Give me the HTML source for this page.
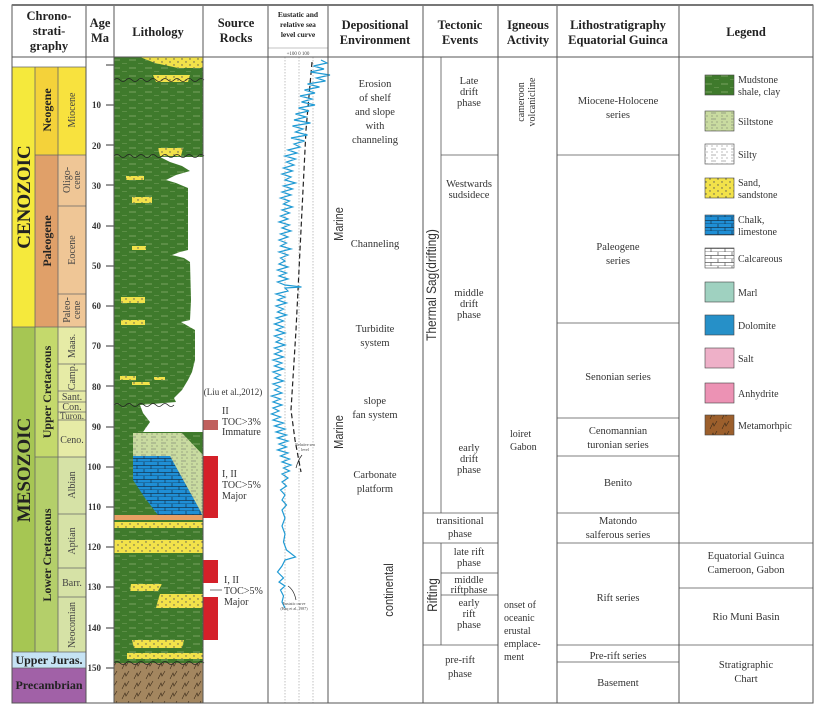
<!DOCTYPE html>
<html><head><meta charset="utf-8"><style>
html,body{margin:0;padding:0;background:#fff;}
svg{display:block;font-family:"Liberation Serif",serif;}
.h{font-weight:bold;font-size:12.5px;fill:#222;text-anchor:middle;}
.t{font-size:10.5px;fill:#333;text-anchor:middle;}
.b{font-weight:bold;fill:#222;}
</style></head><body>
<svg width="817" height="715" viewBox="0 0 817 715" xmlns="http://www.w3.org/2000/svg">
<defs>
<pattern id="mud" width="16" height="8" patternUnits="userSpaceOnUse">
<rect width="16" height="8" fill="#3f7a2c"/><line x1="1" y1="4" x2="8" y2="4" stroke="#86ad6c" stroke-width="0.8"/><line x1="10" y1="8" x2="15" y2="8" stroke="#86ad6c" stroke-width="0.8"/></pattern>
<pattern id="sand" width="8" height="6" patternUnits="userSpaceOnUse"><rect width="8" height="6" fill="#f2e24a"/><circle cx="2" cy="2" r="0.7" fill="#555"/><circle cx="6" cy="5" r="0.7" fill="#555"/></pattern>
<pattern id="silt" width="10" height="6" patternUnits="userSpaceOnUse"><rect width="10" height="6" fill="#c9dba0"/><circle cx="2" cy="2" r="0.5" fill="#555"/><circle cx="7" cy="2" r="0.5" fill="#555"/><line x1="1" y1="5" x2="6" y2="5" stroke="#666" stroke-width="0.5"/></pattern>
<pattern id="silty" width="10" height="6" patternUnits="userSpaceOnUse"><rect width="10" height="6" fill="#fff"/><circle cx="2" cy="2" r="0.5" fill="#555"/><circle cx="7" cy="2" r="0.5" fill="#555"/><line x1="1" y1="5" x2="6" y2="5" stroke="#666" stroke-width="0.5"/></pattern>
<pattern id="lime" width="14" height="7" patternUnits="userSpaceOnUse"><rect width="14" height="7" fill="#1f8fd6"/><line x1="0" y1="7" x2="14" y2="7" stroke="#123" stroke-width="0.6"/><line x1="4" y1="0" x2="4" y2="3.5" stroke="#123" stroke-width="0.6"/><line x1="0" y1="3.5" x2="14" y2="3.5" stroke="#123" stroke-width="0.6"/><line x1="11" y1="3.5" x2="11" y2="7" stroke="#123" stroke-width="0.6"/></pattern>
<pattern id="calc" width="14" height="7" patternUnits="userSpaceOnUse"><rect width="14" height="7" fill="#fff"/><line x1="0" y1="7" x2="14" y2="7" stroke="#333" stroke-width="0.6"/><line x1="4" y1="0" x2="4" y2="3.5" stroke="#333" stroke-width="0.6"/><line x1="0" y1="3.5" x2="14" y2="3.5" stroke="#333" stroke-width="0.6"/><line x1="11" y1="3.5" x2="11" y2="7" stroke="#333" stroke-width="0.6"/></pattern>
<pattern id="meta" width="12" height="10" patternUnits="userSpaceOnUse"><rect width="12" height="10" fill="#a3865f"/><path d="M2,9 L5,3 L6,6 L9,1" stroke="#3a2a18" stroke-width="0.6" fill="none"/></pattern>
<pattern id="metaL" width="12" height="10" patternUnits="userSpaceOnUse"><rect width="12" height="10" fill="#9c5f2c"/><path d="M2,9 L5,3 L6,6 L9,1" stroke="#3a2a18" stroke-width="0.6" fill="none"/></pattern>
</defs>

<rect x="12" y="57" width="74" height="10" fill="#fff"/>
<rect x="12" y="67" width="23" height="260" fill="#f5e93c"/>
<rect x="35" y="67" width="23" height="88" fill="#f4d23a"/>
<rect x="58" y="67" width="28" height="88" fill="#f8e23e"/>
<rect x="35" y="155" width="23" height="172" fill="#e0a069"/>
<rect x="58" y="155" width="28" height="172" fill="#efc696"/>
<rect x="12" y="327" width="23" height="325" fill="#a6c653"/>
<rect x="35" y="327" width="23" height="130" fill="#c4d96c"/>
<rect x="58" y="327" width="28" height="130" fill="#e6eba6"/>
<rect x="35" y="457" width="23" height="195" fill="#b4cf6a"/>
<rect x="58" y="457" width="28" height="195" fill="#d6e2a6"/>
<rect x="12" y="652" width="74" height="16" fill="#c6e3f4"/>
<rect x="12" y="668" width="74" height="35" fill="#a161a7"/>
<g stroke="#666" stroke-width="0.8">
<line x1="35" y1="67" x2="35" y2="652"/><line x1="58" y1="67" x2="58" y2="652"/>
<line x1="12" y1="67" x2="86" y2="67"/><line x1="35" y1="155" x2="86" y2="155"/>
<line x1="58" y1="206" x2="86" y2="206"/><line x1="58" y1="294" x2="86" y2="294"/>
<line x1="12" y1="327" x2="86" y2="327"/><line x1="58" y1="364" x2="86" y2="364"/>
<line x1="58" y1="391" x2="86" y2="391"/><line x1="58" y1="402" x2="86" y2="402"/>
<line x1="58" y1="412" x2="86" y2="412"/><line x1="58" y1="420" x2="86" y2="420"/>
<line x1="35" y1="457" x2="86" y2="457"/><line x1="58" y1="514" x2="86" y2="514"/>
<line x1="58" y1="568" x2="86" y2="568"/><line x1="58" y1="597" x2="86" y2="597"/>
<line x1="12" y1="652" x2="86" y2="652"/><line x1="12" y1="668" x2="86" y2="668"/>
</g>
<text class="b" font-size="19" transform="translate(30,197) rotate(-90)" text-anchor="middle">CENOZOIC</text>
<text class="b" font-size="19" transform="translate(30,470) rotate(-90)" text-anchor="middle">MESOZOIC</text>
<text class="b" font-size="12" transform="translate(51,110) rotate(-90)" text-anchor="middle">Neogene</text>
<text class="b" font-size="12" transform="translate(51,241) rotate(-90)" text-anchor="middle">Paleogene</text>
<text class="b" font-size="12" transform="translate(51,392) rotate(-90)" text-anchor="middle">Upper Cretaceous</text>
<text class="b" font-size="12" transform="translate(51,555) rotate(-90)" text-anchor="middle">Lower Cretaceous</text>
<g font-size="10" fill="#444" text-anchor="middle">
<text transform="translate(75,110) rotate(-90)">Miocene</text>
<text transform="translate(70,180) rotate(-90)">Oligo-</text><text transform="translate(80,180) rotate(-90)">cene</text>
<text transform="translate(75,250) rotate(-90)">Eocene</text>
<text transform="translate(70,310) rotate(-90)">Paleo-</text><text transform="translate(80,310) rotate(-90)">cene</text>
<text transform="translate(75,346) rotate(-90)">Maas.</text>
<text transform="translate(75,377) rotate(-90)">Camp.</text>
<text x="72" y="400">Sant.</text><text x="72" y="410">Con.</text><text x="72" y="419" font-size="9">Turon.</text>
<text x="72" y="443">Ceno.</text>
<text transform="translate(75,485) rotate(-90)">Albian</text>
<text transform="translate(75,541) rotate(-90)">Aptian</text>
<text x="72" y="586">Barr.</text>
<text transform="translate(75,625) rotate(-90)">Neocomian</text>
</g>
<text class="b" font-size="12" x="49" y="664" text-anchor="middle">Upper Juras.</text>
<text class="b" font-size="12" x="49" y="689" text-anchor="middle" fill="#2a1030">Precambrian</text>

<g font-size="9" font-weight="bold" fill="#333" text-anchor="end">
<text x="101" y="108">10</text><text x="101" y="149">20</text><text x="101" y="189">30</text><text x="101" y="229">40</text><text x="101" y="269">50</text><text x="101" y="309">60</text><text x="101" y="349">70</text><text x="101" y="390">80</text><text x="101" y="430">90</text><text x="101" y="470">100</text><text x="101" y="510">110</text><text x="101" y="550">120</text><text x="101" y="590">130</text><text x="101" y="631">140</text><text x="101" y="671">150</text>
</g>
<g stroke="#333" stroke-width="1">
<line x1="106" y1="65" x2="114" y2="65"/><line x1="106" y1="105" x2="114" y2="105"/><line x1="106" y1="145" x2="114" y2="145"/><line x1="106" y1="185" x2="114" y2="185"/><line x1="106" y1="226" x2="114" y2="226"/><line x1="106" y1="266" x2="114" y2="266"/><line x1="106" y1="306" x2="114" y2="306"/><line x1="106" y1="346" x2="114" y2="346"/><line x1="106" y1="386" x2="114" y2="386"/><line x1="106" y1="427" x2="114" y2="427"/><line x1="106" y1="467" x2="114" y2="467"/><line x1="106" y1="507" x2="114" y2="507"/><line x1="106" y1="547" x2="114" y2="547"/><line x1="106" y1="587" x2="114" y2="587"/><line x1="106" y1="628" x2="114" y2="628"/><line x1="106" y1="668" x2="114" y2="668"/>
</g>

<rect x="114" y="57" width="89" height="606" fill="url(#mud)"/>
<polygon points="140,57 203,57 203,68 178,68 155,63" fill="url(#sand)"/>
<polygon fill="#fff" points="203,157 160,157 170,162 182,166 190,171 176,175 166,180 176,183 188,188 188,250 180,252 172,255 184,258 190,262 191,300 190,320 181,322 188,326 195,330 195,360 192,372 188,380 182,390 174,398 176,402 140,405 143,413 150,422 143,432 203,432"/>
<polygon points="133,433 182,433 203,455 203,515 198,515 170,456 133,456" fill="url(#silt)"/>
<polygon points="133,456 170,456 201,512 202,515 158,515 145,498 133,480" fill="url(#lime)"/>
<rect x="114" y="515" width="89" height="5" fill="#e89f64"/>
<rect x="114" y="522" width="89" height="6" fill="url(#sand)"/>
<rect x="114" y="540" width="89" height="13" fill="url(#sand)"/>
<g fill="url(#sand)">
<polygon points="153,75 190,75 188,82 156,82"/>
<polygon points="158,148 183,148 181,156 160,156"/>
<rect x="126" y="176" width="18" height="4"/>
<rect x="132" y="197" width="20" height="6"/>
<rect x="132" y="246" width="14" height="4"/>
<rect x="121" y="297" width="24" height="6"/>
<rect x="121" y="320" width="24" height="5"/>
<rect x="120" y="376" width="16" height="4"/>
<rect x="132" y="382" width="18" height="3"/>
<rect x="154" y="377" width="11" height="3"/>
<polygon points="131,584 162,584 158,591 130,591"/>
<polygon points="160,594 203,594 203,608 156,608 158,600"/>
<polygon points="132,640 184,640 182,648 134,648"/>
<rect x="127" y="653" width="76" height="6"/>
</g>
<rect x="114" y="663" width="89" height="40" fill="url(#meta)"/>
<path d="M114,80 q3,-3 6,0 t6,0 t6,0 t6,0 t6,0 t6,0 t6,0 t6,0 t6,0 t6,0 t6,0 t6,0 t6,0 t6,0 t6,0" stroke="#222" fill="none" stroke-width="0.8"/>
<path d="M114,156 q3,-3 6,0 t6,0 t6,0 t6,0 t6,0 t6,0 t6,0 t6,0 t6,0 t6,0 t6,0 t6,0 t6,0 t6,0 t6,0" stroke="#222" fill="none" stroke-width="0.8"/>
<path d="M114,405 q3,-3 6,0 t6,0 t6,0 t6,0 t6,0 t6,0 t6,0 t6,0 t6,0 t6,0" stroke="#222" fill="none" stroke-width="0.8"/>
<path d="M114,663 q3,-3 6,0 t6,0 t6,0 t6,0 t6,0 t6,0 t6,0 t6,0 t6,0 t6,0 t6,0 t6,0 t6,0 t6,0 t6,0" stroke="#222" fill="none" stroke-width="0.8"/>

<rect x="203" y="420" width="15" height="10" fill="#c0605e"/>
<rect x="203" y="456" width="15" height="62" fill="#d42029"/>
<rect x="203" y="560" width="15" height="23" fill="#d42029"/>
<rect x="203" y="597" width="15" height="43" fill="#d42029"/>
<line x1="210" y1="590" x2="222" y2="590" stroke="#555" stroke-width="0.8"/>
<g font-size="10" fill="#333">
<text x="233" y="395" text-anchor="middle" font-size="9">(Liu et al.,2012)</text>
<text x="222" y="414">II</text><text x="222" y="425">TOC&gt;3%</text><text x="222" y="435">Immature</text>
<text x="222" y="477">I, II</text><text x="222" y="488">TOC&gt;5%</text><text x="222" y="499">Major</text>
<text x="224" y="583">I, II</text><text x="224" y="594">TOC&gt;5%</text><text x="224" y="605">Major</text>
</g>

<g stroke="#999" stroke-width="0.6" stroke-dasharray="1.5,1.5">
<line x1="285" y1="57" x2="285" y2="703"/><line x1="299" y1="57" x2="299" y2="703"/><line x1="313" y1="57" x2="313" y2="703"/>
</g>
<line x1="268" y1="48" x2="328" y2="48" stroke="#888" stroke-width="0.6"/>
<text x="298" y="55" font-size="5" text-anchor="middle" fill="#444">+100  0  100</text>
<path d="M312,62 L306,130 L300,250 L296,330 L291,410 L295,440 L301,472" stroke="#222" stroke-width="1.2" fill="none" stroke-dasharray="5,3"/>
<g transform="translate(300,0) scale(1.5,1) translate(-300,0)">
<path fill="none" stroke="#1f9ad4" stroke-width="1.2" vector-effect="non-scaling-stroke" d="M314,60 L318,63 L309,66 L316,69 L307,72 L320,75 L311,78 L317,81 L305,84 L313,87 L303,90 L310,93 L300,96 L308,99 L301,102 L310,105 L299,108 L306,111 L297,114 L304,117 L296,120 L307,123 L295,126 L302,129 L297,132 L305,135 L294,138 L303,141 L296,144 L300,147 L292,150 L298,153 L290,156 L297,159 L291,162 L296,165 L289,168 L295,171 L288,174 L294,177 L290,180 L297,183 L289,186 L295,189 L288,192 L294,195 L287,198 L293,201 L289,204 L295,207 L288,210 L293,213 L287,216 L292,219 L286,222 L293,225 L288,228 L294,231 L287,234 L292,237 L286,240 L291,243 L287,246 L294,249 L286,252 L292,255 L287,258 L290,261 L286,264 L292,267 L285,270 L291,273 L286,276 L292,279 L285,282 L290,285 L301,287 L290,288 L292,291 L284,294 L290,297 L285,300 L291,303 L284,306 L289,309 L285,312 L291,315 L284,318 L289,321 L283,324 L289,327 L284,330 L290,333 L283,336 L288,339 L284,342 L290,345 L283,348 L288,351 L283,354 L289,357 L282,360 L288,363 L283,366 L289,369 L282,372 L287,375 L283,378 L289,381 L282,384 L287,387 L283,390 L288,393 L281,396 L287,399 L282,402 L288,405 L282,408 L286,411 L281,414 L287,417 L282,420 L289,423 L283,426 L290,429 L284,432 L291,435 L285,438 L292,441 L286,444 L291,447 L285,450 L292,453 L287,456 L293,459 L288,462 L294,465 L289,468 L293,471 L288,474 L292,478 L288,482 L291,486 L287,490 L290,495 L288,500 L291,505 L288,510 L290,518 L288,526 L290,534 L289,542 L291,550 L297,557 L290,560 L288,566 L285,572 L289,578 L286,582 L290,586 L287,590 L289,596 L288,602 L290,608"/>
</g>
<text x="305" y="446" font-size="4" fill="#444" text-anchor="middle">Relative sea</text><text x="305" y="451" font-size="4" fill="#444" text-anchor="middle">level</text>
<path d="M302,455 Q298,460 296,468" stroke="#222" fill="none" stroke-width="0.7"/>
<text x="294" y="605" font-size="4" fill="#444" text-anchor="middle">Eustatic curve</text><text x="294" y="610" font-size="4" fill="#444" text-anchor="middle">(Haq et al.,1987)</text>
<path d="M296,600 Q294,590 288,586" stroke="#222" fill="none" stroke-width="0.7"/>

<g class="t" font-size="11">
<text x="375" y="87">Erosion</text><text x="375" y="101">of shelf</text><text x="375" y="115">and slope</text><text x="375" y="129">with</text><text x="375" y="143">channeling</text>
<text x="375" y="247">Channeling</text>
<text x="375" y="332">Turbidite</text><text x="375" y="346">system</text>
<text x="375" y="404">slope</text><text x="375" y="418">fan system</text>
<text x="375" y="478">Carbonate</text><text x="375" y="492">platform</text>
</g>
<g font-family="'Liberation Sans',sans-serif" font-size="13" fill="#333" text-anchor="middle">
<text transform="translate(343,224) rotate(-90) scale(0.85,1)">Marine</text>
<text transform="translate(343,432) rotate(-90) scale(0.85,1)">Marine</text>
<text transform="translate(393,590) rotate(-90) scale(0.85,1)">continental</text>
<text transform="translate(436,285) rotate(-90) scale(0.85,1)" font-size="14">Thermal Sag(drifting)</text>
<text transform="translate(437,595) rotate(-90) scale(0.85,1)" font-size="14">Rifting</text>
</g>

<g stroke="#555" stroke-width="0.8">
<line x1="441" y1="57" x2="441" y2="513"/><line x1="441" y1="543" x2="441" y2="645"/>
<line x1="441" y1="155" x2="498" y2="155"/>
<line x1="423" y1="513" x2="498" y2="513"/><line x1="423" y1="543" x2="498" y2="543"/>
<line x1="441" y1="573" x2="498" y2="573"/><line x1="441" y1="595" x2="498" y2="595"/>
<line x1="423" y1="645" x2="498" y2="645"/>
</g>
<g class="t" font-size="9.5">
<text x="469" y="84">Late</text><text x="469" y="95">drift</text><text x="469" y="106">phase</text>
<text x="469" y="187">Westwards</text><text x="469" y="198">sudsidece</text>
<text x="469" y="296">middle</text><text x="469" y="307">drift</text><text x="469" y="318">phase</text>
<text x="469" y="451">early</text><text x="469" y="462">drift</text><text x="469" y="473">phase</text>
<text x="460" y="524" font-size="10.5">transitional</text><text x="460" y="537" font-size="10.5">phase</text>
<text x="469" y="555">late rift</text><text x="469" y="566">phase</text>
<text x="469" y="583">middle</text><text x="469" y="593">riftphase</text>
<text x="469" y="606">early</text><text x="469" y="617">rift</text><text x="469" y="628">phase</text>
<text x="460" y="663" font-size="10.5">pre-rift</text><text x="460" y="677" font-size="10.5">phase</text>
</g>

<g font-size="10" fill="#333">
<text transform="translate(524,102) rotate(-90)" text-anchor="middle">cameroon</text>
<text transform="translate(535,102) rotate(-90)" text-anchor="middle">volcanicline</text>
<text x="510" y="437">loiret</text><text x="510" y="450">Gabon</text>
<text x="504" y="608">onset of</text><text x="504" y="621">oceanic</text><text x="504" y="634">erustal</text><text x="504" y="647">emplace-</text><text x="504" y="660">ment</text>
</g>

<g stroke="#555" stroke-width="0.8">
<line x1="557" y1="155" x2="679" y2="155"/><line x1="557" y1="323" x2="679" y2="323"/>
<line x1="557" y1="418" x2="679" y2="418"/><line x1="557" y1="456" x2="679" y2="456"/>
<line x1="557" y1="513" x2="679" y2="513"/><line x1="557" y1="543" x2="813" y2="543"/>
<line x1="679" y1="588" x2="813" y2="588"/>
<line x1="557" y1="645" x2="813" y2="645"/><line x1="557" y1="662" x2="679" y2="662"/>
</g>
<g class="t">
<text x="618" y="104">Miocene-Holocene</text><text x="618" y="118">series</text>
<text x="618" y="250">Paleogene</text><text x="618" y="264">series</text>
<text x="618" y="380">Senonian series</text>
<text x="618" y="434">Cenomannian</text><text x="618" y="448">turonian series</text>
<text x="618" y="486">Benito</text>
<text x="618" y="524">Matondo</text><text x="618" y="538">salferous series</text>
<text x="618" y="601">Rift series</text>
<text x="618" y="659">Pre-rift series</text>
<text x="618" y="686">Basement</text>
<text x="746" y="559">Equatorial Guinca</text><text x="746" y="573">Cameroon,  Gabon</text>
<text x="746" y="620">Rio Muni Basin</text>
<text x="746" y="668">Stratigraphic</text><text x="746" y="682">Chart</text>
</g>

<g stroke="#444" stroke-width="0.6">
<rect x="705" y="75" width="29" height="20" fill="url(#mud)"/>
<rect x="705" y="111" width="29" height="20" fill="url(#silt)"/>
<rect x="705" y="144" width="29" height="20" fill="url(#silty)"/>
<rect x="705" y="178" width="29" height="20" fill="url(#sand)"/>
<rect x="705" y="215" width="29" height="20" fill="url(#lime)"/>
<rect x="705" y="248" width="29" height="20" fill="url(#calc)"/>
<rect x="705" y="282" width="29" height="20" fill="#9fd1c0"/>
<rect x="705" y="315" width="29" height="20" fill="#2690c8"/>
<rect x="705" y="348" width="29" height="20" fill="#eeb0c8"/>
<rect x="705" y="383" width="29" height="20" fill="#ec92b4"/>
<rect x="705" y="415" width="29" height="20" fill="url(#metaL)"/>
</g>
<g font-size="10" fill="#333">
<text x="738" y="83">Mudstone</text><text x="738" y="95">shale, clay</text>
<text x="738" y="125">Siltstone</text>
<text x="738" y="158">Silty</text>
<text x="738" y="186">Sand,</text><text x="738" y="198">sandstone</text>
<text x="738" y="223">Chalk,</text><text x="738" y="235">limestone</text>
<text x="738" y="262">Calcareous</text>
<text x="738" y="296">Marl</text>
<text x="738" y="329">Dolomite</text>
<text x="738" y="362">Salt</text>
<text x="738" y="397">Anhydrite</text>
<text x="738" y="429">Metamorhpic</text>
</g>

<g class="h">
<text x="49" y="20">Chrono-</text><text x="49" y="35">strati-</text><text x="49" y="50">graphy</text>
<text x="100" y="27">Age</text><text x="100" y="42">Ma</text>
<text x="158" y="36">Lithology</text>
<text x="236" y="27">Source</text><text x="236" y="42">Rocks</text>
<text x="298" y="17" font-size="7.5">Eustatic and</text><text x="298" y="27" font-size="7.5">relative sea</text><text x="298" y="37" font-size="7.5">level curve</text>
<text x="375" y="29">Depositional</text><text x="375" y="44">Environment</text>
<text x="460" y="29">Tectonic</text><text x="460" y="44">Events</text>
<text x="528" y="29">Igneous</text><text x="528" y="44">Activity</text>
<text x="618" y="29">Lithostratigraphy</text><text x="618" y="44">Equatorial Guinca</text>
<text x="746" y="36">Legend</text>
</g>

<g stroke="#555" stroke-width="1" fill="none">
<rect x="12" y="5" width="801" height="698"/>
<line x1="12" y1="57" x2="813" y2="57"/>
<line x1="86" y1="5" x2="86" y2="703"/><line x1="114" y1="5" x2="114" y2="703"/>
<line x1="203" y1="5" x2="203" y2="703"/><line x1="268" y1="5" x2="268" y2="703"/>
<line x1="328" y1="5" x2="328" y2="703"/><line x1="423" y1="5" x2="423" y2="703"/>
<line x1="498" y1="5" x2="498" y2="703"/><line x1="557" y1="5" x2="557" y2="703"/>
<line x1="679" y1="5" x2="679" y2="703"/>
</g>
<line x1="12" y1="5" x2="813" y2="5" stroke="#777" stroke-width="2"/>
</svg>
</body></html>
